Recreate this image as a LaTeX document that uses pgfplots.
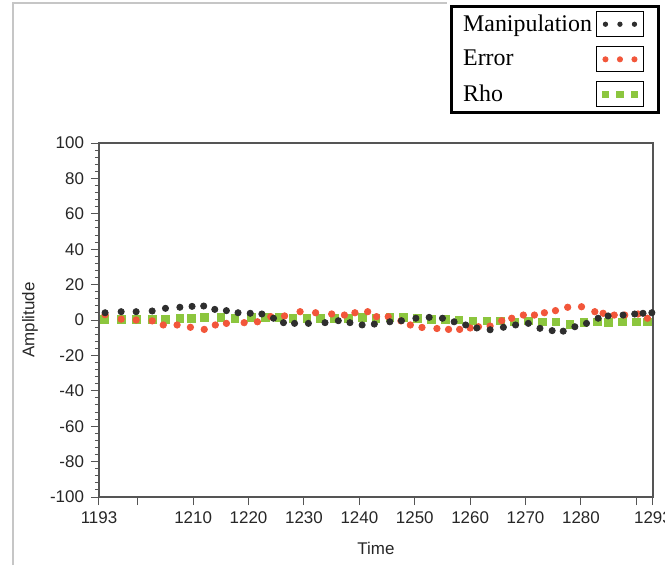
\documentclass[border=0pt]{standalone}
\usepackage{pgfplots}
\pgfplotsset{compat=1.18}
\usepackage{fontspec}
\setmainfont{Liberation Sans}
\newfontfamily\legfont{Liberation Serif}

\definecolor{manip}{HTML}{2E2E2E}
\definecolor{errc}{HTML}{F2563A}
\definecolor{rhoc}{HTML}{8CC63E}
\definecolor{axc}{HTML}{555555}

% legend sample: a small box with three marks
\newcommand\legbox[3]{%
    \draw[black, fill=white, line width=0.5bp] (0bp,-6.25bp) rectangle (23.5bp,6.25bp);
    \path[draw=none, fill=none] (0bp,0bp) -- (27bp,0bp);
    \draw[color=#1, fill=#1, line width=0.4bp] plot[only marks, mark=#2, mark size=#3]
        coordinates {(4.5bp,0bp) (11.75bp,0bp) (19bp,0bp)};
}

\begin{document}
\begin{tikzpicture}
\begin{axis}[
    scale only axis,
    width=277bp, height=177bp,
    xmin=1193, xmax=1293,
    ymin=-100, ymax=100,
    axis line style={axc, line width=0.75bp},
    xtick={1193,1200,1210,1220,1230,1240,1250,1260,1270,1280,1290},
    xticklabels={1193,,1210,1220,1230,1240,1250,1260,1270,1280,},
    extra x ticks={1293},
    extra x tick labels={1293},
    minor x tick num=6,
    ytick={-100,-80,...,100},
    minor y tick num=4,
    tick align=outside,
    xtick pos=bottom, ytick pos=left,
    major tick length=4bp, minor tick length=2bp,
    every tick/.style={axc, line width=0.5bp},
    tick label style={font=\fontsize{8.5}{10}\selectfont, text=black!85},
    /pgf/number format/assume math mode=true,
    xlabel={Time}, ylabel={Amplitude},
    label style={font=\fontsize{8.5}{10}\selectfont, text=black!85},
    xlabel style={at={(axis description cs:0.5,-0.144)}, anchor=center},
    ylabel style={at={(axis description cs:-0.1245,0.5)}, anchor=center},
    clip=false,
    reverse legend,
    legend plot pos=right,
    legend cell align=left,
    legend style={at={(1.0126,1.39)}, anchor=north east, draw=black, line width=1.5bp,
        font=\legfont\fontsize{12}{13}\selectfont, inner xsep=4bp, inner ysep=2bp,
        row sep=4bp},
]

% Rho
\addplot[only marks, mark=square*, mark size=1.9bp, color=rhoc,
    legend image code/.code={\legbox{rhoc}{square*}{1.7bp}}] coordinates {
(1194,0.5) (1197,0.5) (1199.7,0.5) (1202.6,0.5) (1205,0.5) (1207.6,1) (1209.7,1)
(1212,1.5) (1215,1.5) (1217.5,1) (1220.5,1.5) (1223,1.5) (1225.5,1.5) (1228,1)
(1230.5,1) (1233,1) (1235.5,1) (1238,1) (1240.5,1.5) (1243,1) (1245.5,1.5)
(1248,1.5) (1250.5,1) (1253,0.5) (1255.5,0.5) (1258,0) (1260.5,-0.5) (1263,-0.5)
(1265.5,-0.5) (1268,-1) (1270.5,-0.5) (1273,-1) (1275.5,-1) (1278,-2.5)
(1280.5,-1.5) (1283,-1) (1285,-1.5) (1287.5,-1) (1290,-1) (1292,-1)
};
\addlegendentry{Rho}

% Error
\addplot[only marks, mark=*, mark size=1.6bp, color=errc,
    legend image code/.code={\legbox{errc}{*}{1.3bp}}] coordinates {
(1194.1,3) (1197,0.5) (1199.7,0) (1202.6,-0.5) (1204.6,-2.8) (1207.1,-2.8)
(1209.5,-4.1) (1212,-5.3) (1214,-2.8) (1216,-1.9) (1219.2,-1.5) (1221.6,-1)
(1224,1.9) (1226.5,2.3) (1229.3,4.7) (1232.1,4.1) (1235,3.4) (1237.3,2.8)
(1239.2,4.1) (1241.5,4.7) (1243.1,1.9) (1245.2,1.9) (1247.5,-0.5) (1249.2,-2.8)
(1251.3,-4.2) (1254,-4.8) (1256.1,-5.3) (1258.1,-5.3) (1260,-4.5) (1261.5,-3.8)
(1263.6,-3.4) (1265.7,-0.4) (1267.5,1) (1269.6,2.8) (1271.6,2.8) (1273.4,4.1)
(1275.4,5.3) (1277.6,7.2) (1280.1,7.5) (1282.5,4.7) (1284,3.8) (1286,2.8)
(1287.9,2.8) (1290.3,3.4) (1292,1)
};
\addlegendentry{Error}

% Manipulation
\addplot[only marks, mark=*, mark size=1.55bp, color=manip,
    legend image code/.code={\legbox{manip}{*}{1.1bp}}] coordinates {
(1194.1,4.1) (1197,4.7) (1199.7,4.7) (1202.6,5.1) (1205,6.6) (1207.6,7.2)
(1209.8,7.7) (1211.9,7.9) (1213.9,6) (1216,5.3) (1218.1,4.1) (1220.3,3.8)
(1222.4,3.4) (1224.5,1) (1226.3,-1.5) (1228.3,-1.9) (1230.8,-1.9) (1233.8,-1.5)
(1236.2,-0.4) (1238.3,-1.5) (1240.5,-2.8) (1242.7,-2.3) (1245.5,-1) (1247.6,-0.4)
(1250.2,1) (1252.6,1.5) (1255,1) (1257.1,-1) (1259.2,-2.8) (1261.2,-4.5)
(1263.6,-5.5) (1266,-4.1) (1268.2,-2.8) (1270.5,-1.9) (1272.6,-4.7) (1274.8,-6)
(1276.8,-6.3) (1278.9,-3.8) (1281,-1.9) (1283.1,1) (1284.9,2.3) (1287.6,2.8)
(1289.7,3.4) (1291.2,3.8) (1292.8,4.1)
};
\addlegendentry{Manipulation}

\coordinate (bl) at (rel axis cs:-0.1787,-0.1921);
\coordinate (tr) at (rel axis cs:1.0217,1.404);
\draw[gray!45, line width=0.6bp] (rel axis cs:-0.1552,-0.1921) -- (rel axis cs:-0.1552,1.3955) -- (rel axis cs:0.628,1.3955);
\end{axis}
\pgfresetboundingbox
\useasboundingbox (bl) rectangle (tr);
\end{tikzpicture}
\end{document}
